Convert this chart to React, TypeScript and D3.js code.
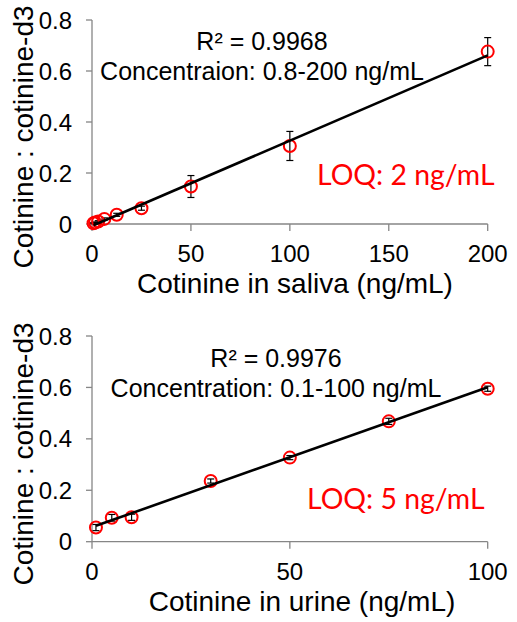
import React from "react";
import * as d3 from "d3";

// ---- data ----
const salivaConc = [0.78, 1.56, 3.13, 6.25, 12.5, 25, 50, 100, 200];
const salivaRatio = [0.003, 0.006, 0.01, 0.02, 0.036, 0.062, 0.147, 0.306, 0.676];
const salivaErr = [0.002, 0.002, 0.003, 0.004, 0.006, 0.008, 0.043, 0.057, 0.055];
const salivaXTicks = [0, 50, 100, 150, 200];

const urineConc = [1, 5, 10, 30, 50, 75, 100];
const urineRatio = [0.055, 0.093, 0.095, 0.236, 0.327, 0.468, 0.595];
const urineErr = [0.012, 0.013, 0.012, 0.008, 0.008, 0.012, 0.01];
const urineXTicks = [0, 50, 100];

const yTicks = [0, 0.2, 0.4, 0.6, 0.8];

const salivaNotes = ["R² = 0.9968", "Concentraion: 0.8-200 ng/mL"];
const urineNotes = ["R² = 0.9976", "Concentration: 0.1-100 ng/mL"];
const salivaLOQ = "LOQ: 2 ng/mL";
const urineLOQ = "LOQ: 5 ng/mL";
const yTitle = "Cotinine : cotinine-d3";
const salivaXTitle = "Cotinine in saliva (ng/mL)";
const urineXTitle = "Cotinine in urine (ng/mL)";

const AXIS = "#868686";
const FONT = "'Liberation Sans', Arial, sans-serif";

function fit(xs: number[], ys: number[]) {
  const mx = d3.mean(xs)!;
  const my = d3.mean(ys)!;
  let sxy = 0, sxx = 0;
  xs.forEach((x, i) => {
    sxy += (x - mx) * (ys[i] - my);
    sxx += (x - mx) * (x - mx);
  });
  const slope = sxy / sxx;
  return { slope, intercept: my - slope * mx };
}

type PanelProps = {
  xs: number[];
  ys: number[];
  errs: number[];
  xMax: number;
  xTicks: number[];
  top: number;
  bottom: number;
  notes: string[];
  notesX: number;
  notesY: number;
  loq: string;
  loqX: number;
  loqY: number;
  xTitle: string;
  xTitleX: number;
  yTitleY: number;
};

function Panel(p: PanelProps) {
  const x = d3.scaleLinear().domain([0, p.xMax]).range([92, 487.7]);
  const y = d3.scaleLinear().domain([0, 0.8]).range([p.bottom, p.top]);
  const { slope, intercept } = fit(p.xs, p.ys);
  const x0 = d3.min(p.xs)!;
  const x1 = d3.max(p.xs)!;
  const line = d3.line<number>()
    .x((d) => x(d))
    .y((d) => y(intercept + slope * d));
  const fmtY = (v: number) => (v === 0 ? "0" : d3.format(".1f")(v));
  return (
    <g>
      {/* axes */}
      <line x1={x(0)} x2={x(0)} y1={y(0.8)} y2={y(0)} stroke={AXIS} strokeWidth={1.3} />
      <line x1={x(0)} x2={x(p.xMax)} y1={y(0)} y2={y(0)} stroke={AXIS} strokeWidth={1.3} />
      {yTicks.map((t) => (
        <g key={"y" + t}>
          <line x1={x(0) - 6} x2={x(0)} y1={y(t)} y2={y(t)} stroke={AXIS} strokeWidth={1.3} />
          <text x={72} y={y(t) + 8.6} textAnchor="end" fontSize={24} fontFamily={FONT} fill="#000">
            {fmtY(t)}
          </text>
        </g>
      ))}
      {p.xTicks.map((t) => (
        <g key={"x" + t}>
          <line x1={x(t)} x2={x(t)} y1={y(0)} y2={y(0) + 7} stroke={AXIS} strokeWidth={1.3} />
          <text x={x(t)} y={y(0) + 38} textAnchor="middle" fontSize={24} fontFamily={FONT} fill="#000">
            {t}
          </text>
        </g>
      ))}
      {/* error bars */}
      {p.xs.map((v, i) => (
        <g key={"e" + i} stroke="#000" strokeWidth={1.2}>
          <line x1={x(v)} x2={x(v)} y1={y(p.ys[i] - p.errs[i])} y2={y(p.ys[i] + p.errs[i])} />
          <line x1={x(v) - 3.5} x2={x(v) + 3.5} y1={y(p.ys[i] - p.errs[i])} y2={y(p.ys[i] - p.errs[i])} />
          <line x1={x(v) - 3.5} x2={x(v) + 3.5} y1={y(p.ys[i] + p.errs[i])} y2={y(p.ys[i] + p.errs[i])} />
        </g>
      ))}
      {/* markers */}
      {p.xs.map((v, i) => (
        <circle key={"c" + i} cx={x(v)} cy={y(p.ys[i])} r={6} fill="none" stroke="#ff0000" strokeWidth={2} />
      ))}
      {/* trend line */}
      <path d={line([x0, x1]) || ""} stroke="#000" strokeWidth={2.6} fill="none" />
      {/* notes */}
      {p.notes.map((n, i) => (
        <text key={"n" + i} x={p.notesX} y={p.notesY + i * 30} textAnchor="middle" fontSize={25} fontFamily={FONT} fill="#000">
          {n}
        </text>
      ))}
      <text x={p.loqX} y={p.loqY} fontSize={28.4} fontFamily="Lato, 'Open Sans', sans-serif" fill="#ff0000">
        {p.loq}
      </text>
      <text x={p.xTitleX} y={p.bottom + 69} textAnchor="middle" fontSize={28} fontFamily={FONT} fill="#000">
        {p.xTitle}
      </text>
      <text
        transform={`translate(${33},${p.yTitleY}) rotate(-90)`}
        textAnchor="middle"
        fontSize={28}
        fontFamily={FONT}
        fill="#000"
      >
        {yTitle}
      </text>
    </g>
  );
}

export default function App() {
  return (
    <svg
      width={517}
      height={622}
      style={{ position: "absolute", left: 0, top: 0, background: "#fff" }}
    >
      <rect width={517} height={622} fill="#fff" />
      <Panel
        xs={salivaConc}
        ys={salivaRatio}
        errs={salivaErr}
        xMax={200}
        xTicks={salivaXTicks}
        top={20}
        bottom={224}
        notes={salivaNotes}
        notesX={262}
        notesY={50}
        loq={salivaLOQ}
        loqX={317}
        loqY={185}
        xTitle={salivaXTitle}
        xTitleX={295}
        yTitleY={137}
      />
      <Panel
        xs={urineConc}
        ys={urineRatio}
        errs={urineErr}
        xMax={100}
        xTicks={urineXTicks}
        top={336}
        bottom={541.7}
        notes={urineNotes}
        notesX={276}
        notesY={366.7}
        loq={urineLOQ}
        loqX={307}
        loqY={509}
        xTitle={urineXTitle}
        xTitleX={302}
        yTitleY={454}
      />
    </svg>
  );
}
